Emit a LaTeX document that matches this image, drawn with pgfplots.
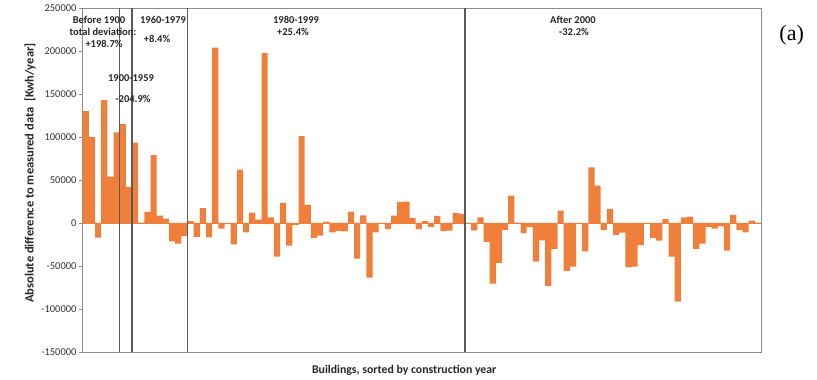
\documentclass[border=0pt]{standalone}
\usepackage{pgfplots}
\pgfplotsset{compat=1.18}
\usepackage{pgfplotstable}
\usepackage{fontspec}
\setmainfont{Carlito}
\newfontfamily\serifa{Liberation Serif}
\definecolor{barorange}{HTML}{EF7F3B}
\definecolor{periodline}{HTML}{5A5A5A}
\definecolor{framegray}{HTML}{8C8C8C}

% deviation per building, sorted by construction year
\pgfplotstableread{
x y
1 130000
2 100000
3 -17000
4 143000
5 54000
6 105500
7 115000
8 42000
9 93500
10 500
11 13000
12 79000
13 8500
14 5000
15 -21500
16 -24000
17 -15000
18 2300
19 -16000
20 17400
21 -16700
22 204000
23 -6500
24 -500
25 -25000
26 62000
27 -11000
28 12000
29 3800
30 197500
31 6400
32 -39200
33 23500
34 -26400
35 -2500
36 101000
37 21000
38 -17400
39 -14600
40 1500
41 -11000
42 -9200
43 -9800
44 13200
45 -41500
46 9000
47 -63500
48 -10900
49 -1000
50 -7200
51 8500
52 24600
53 25000
54 5800
55 -7200
56 2300
57 -4600
58 8300
59 -9500
60 -9000
61 11800
62 10500
63 -1000
64 -8500
65 6600
66 -22000
67 -70500
68 -46300
69 -8000
70 31700
71 500
72 -11900
73 -4500
74 -45000
75 -20200
76 -73200
77 -30200
78 14300
79 -55800
80 -50800
81 -1100
82 -33000
83 64700
84 43400
85 -8000
86 16500
87 -13800
88 -11300
89 -51600
90 -50800
91 -25600
92 -300
93 -17400
94 -20600
95 4400
96 -39000
97 -91500
98 6600
99 7300
100 -30200
101 -24000
102 -4500
103 -6600
104 -4000
105 -32200
106 9500
107 -8200
108 -10900
109 2700
110 300
}\deviation

\begin{document}
\begin{tikzpicture}
\path[use as bounding box] (-82.7pt,-28pt) rectangle (734.3pt,352pt);
\begin{axis}[
  at={(0pt,0pt)}, anchor=south west,
  scale only axis, width=678.3pt, height=344pt,
  xmin=0.5, xmax=110.5, ymin=-150000, ymax=250000,
  xtick=\empty,
  ytick={-150000,-100000,-50000,0,50000,100000,150000,200000,250000},
  ytick pos=left, ytick align=outside,
  major tick length=4pt,
  tick style={framegray, line width=0.8pt},
  axis line style={framegray, line width=0.8pt},
  scaled y ticks=false,
  /pgf/number format/assume math mode=true,
  yticklabel style={/pgf/number format/fixed, /pgf/number format/1000 sep={},
    font=\fontsize{10.5}{12}\selectfont, text=black!80, inner sep=2pt},
  ylabel={Absolute difference to measured data~~[Kwh/year]},
  xlabel={Buildings, sorted by construction year},
  ylabel style={at={(axis description cs:-0.0777,0.52)}, anchor=center,
    font=\bfseries\fontsize{12.5}{14}\selectfont, text=black!85},
  xlabel style={at={(axis description cs:0.474,-0.052)}, anchor=center,
    font=\bfseries\fontsize{11.8}{14}\selectfont, text=black!85},
  ybar, bar width=1, bar shift=0pt,
  clip=false,
]
\addplot[fill=barorange, draw=none] table[x=x, y=y] {\deviation};
% zero line
\draw[barorange, line width=0.6pt] (axis cs:0.5,0) -- (axis cs:110.5,0);
% period separators
\draw[periodline, line width=1.1pt] (axis cs:6.5,-150000) -- (axis cs:6.5,250000);
\draw[periodline, line width=1.1pt] (axis cs:8.5,-150000) -- (axis cs:8.5,250000);
\draw[periodline, line width=1.1pt] (axis cs:17.5,-150000) -- (axis cs:17.5,250000);
\draw[periodline, line width=1.1pt] (axis cs:62.5,-150000) -- (axis cs:62.5,250000);
\end{axis}
\begin{scope}[font=\bfseries\fontsize{10.5}{12}\selectfont, text=black!85]
\node at (16.3pt,332pt) {Before 1900};
\node at (20.3pt,320pt) {total deviation:};
\node at (21.3pt,308pt) {+198.7\%};
\node at (80.3pt,332pt) {1960-1979};
\node at (74.3pt,313pt) {+8.4\%};
\node at (48.3pt,274pt) {1900-1959};
\node at (50.3pt,253pt) {-204.9\%};
\node at (213.3pt,332pt) {1980-1999};
\node at (210.3pt,320pt) {+25.4\%};
\node at (490.3pt,332pt) {After 2000};
\node at (491.3pt,320pt) {-32.2\%};
\end{scope}
\node[font=\serifa\fontsize{22}{24}\selectfont] at (709pt,317pt) {(a)};
\end{tikzpicture}
\end{document}
